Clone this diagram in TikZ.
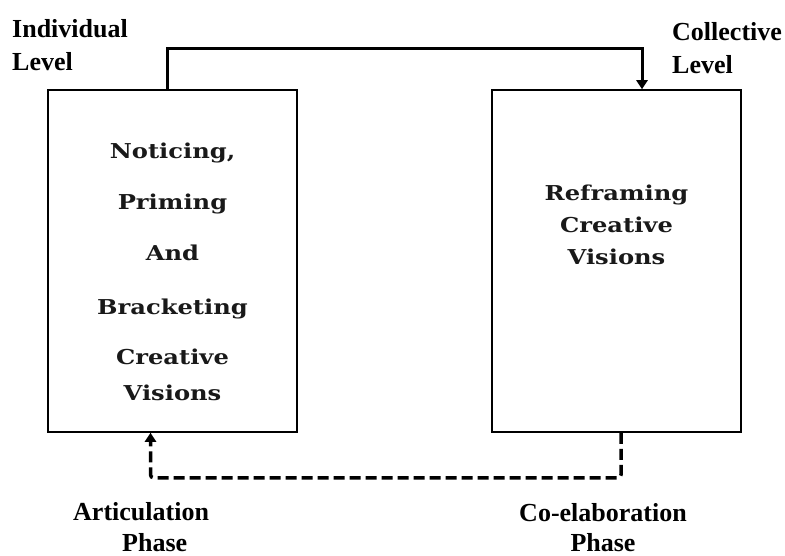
\documentclass[tikz,border=0pt]{standalone}
\usepackage{fontspec}
\usetikzlibrary{arrows.meta}
\newfontfamily\labelfont{Liberation Serif}
\newfontfamily\boxfont[FakeStretch=1.18]{DejaVu Serif}

\begin{document}
\begin{tikzpicture}[x=1pt,y=-1pt,
  phasebox/.style={draw,line width=1.5pt,minimum width=249pt,minimum height=342pt,inner sep=0pt},
  boxtext/.style={align=center,inner sep=0pt,text=black!90,font=\boxfont\bfseries\fontsize{20.5}{25}\selectfont},
  leveltext/.style={inner sep=0pt,font=\labelfont\bfseries\fontsize{26}{33}\selectfont},
  solidlink/.style={line width=3pt,-{Triangle[width=11pt,length=9pt]}},
  dashlink/.style={line width=3.5pt,dash pattern=on 11pt off 5pt,rounded corners=3pt,-{Triangle[width=11pt,length=9pt]}}]
\useasboundingbox (0,0) rectangle (785,556);

%Shape: Rectangle [id:notice]
\node[phasebox] (notice) at (172.5,261) {};
%Shape: Rectangle [id:reframe]
\node[phasebox] (reframe) at (616.5,261) {};

% Text Node
\node[boxtext,anchor=north] (noticetext) at (172.5,143) {Noticing,\\[26pt] Priming\\[26pt] And\\[29pt] Bracketing\\[25pt] Creative\\[11pt] Visions};
% Text Node
\node[boxtext,anchor=north,font=\boxfont\bfseries\fontsize{20.5}{32}\selectfont] (reframetext) at (616.5,185) {Reframing\\ Creative\\ Visions};

% Text Node
\node[leveltext,anchor=north west,align=left] (indiv) at (12,19) {Individual\\ Level};
% Text Node
\node[leveltext,anchor=north west,align=left] (collect) at (672,22) {Collective\\ Level};
% Text Node
\node[leveltext,anchor=north west,align=left,font=\labelfont\bfseries\fontsize{26}{31}\selectfont] (artic) at (73,502) {Articulation\\ \hspace*{49pt}Phase};
% Text Node
\node[leveltext,anchor=north,align=center,font=\labelfont\bfseries\fontsize{26}{29.5}\selectfont] (coelab) at (603,503.5) {Co-elaboration\\ Phase};

%Connector: individual to collective level
\draw[solidlink] ([xshift=-5.5pt]notice.north) -- ++(0,-41) -| ([xshift=25.5pt]reframe.north);
%Connector: co-elaboration back to articulation
\draw[dashlink] ([xshift=4.5pt]reframe.south) -- ++(0,45) -| ([xshift=-22pt]notice.south);

\end{tikzpicture}
\end{document}
